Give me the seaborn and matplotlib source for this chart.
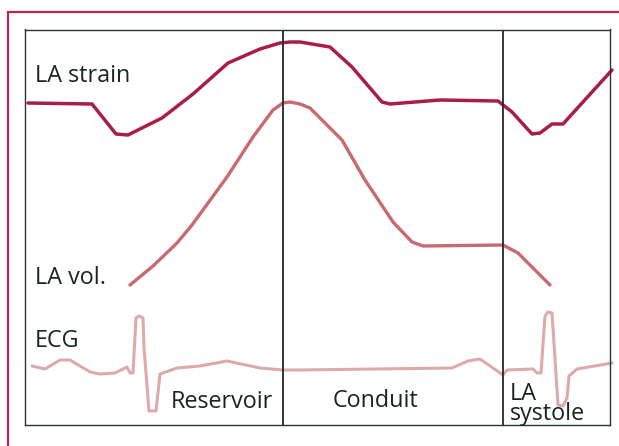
import matplotlib
matplotlib.use('Agg')
import matplotlib.pyplot as plt
import seaborn as sns
import pandas as pd
from matplotlib.patches import Rectangle

# traces (x = time position, y = height, screen units, y down)
strain_x = [28, 92, 116, 128, 162, 193, 228, 260, 280, 290, 300, 330, 352, 382, 390,
            440, 498, 512, 532, 540, 552, 563, 612]
strain_y = [103, 104, 134, 135, 118, 94, 63, 49, 43, 42, 42, 47, 67, 102, 104,
            100, 101, 112, 134, 133, 124, 124, 70]

vol_x = [130, 153, 177, 192, 227, 253, 273, 283, 290, 300, 310, 342, 365, 387, 393,
         412, 423, 503, 518, 550]
vol_y = [285, 266, 243, 225, 177, 137, 110, 103, 102, 104, 108, 140, 180, 213, 222,
         242, 246, 245, 253, 285]

ecg_x = [32, 45, 60, 70, 90, 100, 115, 127, 130, 133, 136, 139, 143, 144, 149, 156,
         160, 177, 200, 227, 260, 283, 300, 452, 468, 480, 503, 507, 533, 537, 541,
         545, 548, 552, 558, 563, 567, 569, 577, 612]
ecg_y = [366, 369, 360, 360, 372, 374, 373, 367, 373, 373, 318, 316, 318, 348, 411, 411,
         374, 368, 366, 361, 368, 370, 370, 368, 361, 359, 375, 370, 369, 373, 373,
         316, 312, 313, 405, 406, 398, 376, 369, 363]

phase_bounds = [283, 503]
trace_labels = ['LA strain', 'LA vol.', 'ECG']
trace_label_y = [76, 278, 341]
phase_labels = ['Reservoir', 'Conduit', 'LA\nsystole']
phase_label_x = [222, 376, 510]

sns.set_style('white')
plt.rcParams['font.family'] = ['Open Sans', 'DejaVu Sans']

W, H = 619, 446
fig = plt.figure(figsize=(W / 100, H / 100), dpi=100)

# outer crimson frame (right and bottom run off the page)
fig.patches.append(Rectangle((8 / W, -0.1), 1.2, (H - 12) / H + 0.1,
                             transform=fig.transFigure, fill=False,
                             edgecolor='#b72a50', lw=1.6))

ax = fig.add_axes([25 / W, (H - 425) / H, 585 / W, 395.5 / H])
ax.set_xlim(25, 610)
ax.set_ylim(425, 29.5)

df_strain = pd.DataFrame({'t': strain_x, 'v': strain_y})
df_vol = pd.DataFrame({'t': vol_x, 'v': vol_y})
df_ecg = pd.DataFrame({'t': ecg_x, 'v': ecg_y})

sns.lineplot(data=df_ecg, x='t', y='v', ax=ax, color='#ddaaaa', lw=2.2,
             sort=False, clip_on=False)
sns.lineplot(data=df_vol, x='t', y='v', ax=ax, color='#c86a70', lw=2.4,
             sort=False, clip_on=False)
sns.lineplot(data=df_strain, x='t', y='v', ax=ax, color='#a81e48', lw=2.5,
             sort=False, clip_on=False)

for b in phase_bounds:
    ax.axvline(b, color='#1e2b2b', lw=1.3)

txt = '#1a2424'
fs = 16.8
for lab, y in zip(trace_labels, trace_label_y):
    ax.text(35, y, lab, fontsize=fs, color=txt, va='center', ha='left')
ax.text(phase_label_x[0], 402, phase_labels[0], fontsize=fs, color=txt,
        va='center', ha='center')
ax.text(phase_label_x[1], 401, phase_labels[1], fontsize=fs, color=txt,
        va='center', ha='center')
ax.text(phase_label_x[2], 404, phase_labels[2], fontsize=fs, color=txt,
        va='center', ha='left', linespacing=0.8)

ax.set_xlabel('')
ax.set_ylabel('')
ax.set_xticks([])
ax.set_yticks([])
for s in ax.spines.values():
    s.set_color('#2a3535')
    s.set_linewidth(1.0)

fig.savefig('out.png', dpi=100)
